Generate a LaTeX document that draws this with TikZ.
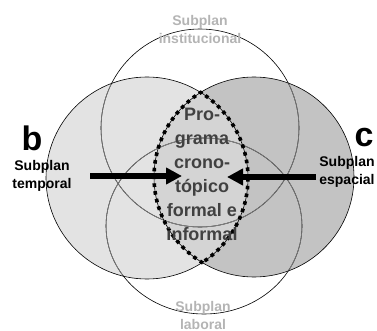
\documentclass[tikz,border=0pt]{standalone}
\usepackage{fontspec}
\setmainfont{Liberation Sans}
\usetikzlibrary{arrows.meta, positioning, calc}
\definecolor{lightfill}{RGB}{227,227,227}
\definecolor{darkfill}{RGB}{195,195,195}
\definecolor{lensfill}{RGB}{212,212,212}
\definecolor{softlabel}{RGB}{180,180,180}
\definecolor{progtext}{RGB}{65,65,65}

\begin{document}
\begin{tikzpicture}[x=1pt, y=-1pt,
    ring/.style={draw=black, line width=0.6pt},
    innerring/.style={draw=gray, line width=0.6pt},
    lensdots/.style={draw=black, line width=3.6pt, dash pattern=on 3.6pt off 4.2pt},
    bigarrow/.style={line width=5pt, -{Triangle[length=16pt, width=16pt]}},
    sublabel/.style={font=\bfseries\fontsize{14}{18}\selectfont, align=center, inner sep=0pt},
    letter/.style={font=\bfseries\fontsize{34}{34}\selectfont, inner sep=0pt}]
  \useasboundingbox (0,0) rectangle (377,331);
  % centres of the four plans
  \coordinate (cl) at (147,178);
  \coordinate (cr) at (254,177);
  \coordinate (ct) at (200,128);
  \coordinate (cb) at (204,226);
  % fills
  \fill[lightfill] (cl) circle (101);
  \fill[darkfill] (cr) circle (100);
  \begin{scope}
    \clip (cl) circle (101);
    \fill[lensfill] (cr) circle (100);
  \end{scope}
  % institutional and labour plans
  \draw[ring] (ct) circle (99);
  \draw[ring] (cb) ellipse (98 and 88);
  \begin{scope}
    \clip (cl) circle (101);
    \draw[innerring] (ct) circle (99);
    \draw[innerring] (cb) ellipse (98 and 88);
  \end{scope}
  \begin{scope}
    \clip (cr) circle (100);
    \draw[innerring] (ct) circle (99);
    \draw[innerring] (cb) ellipse (98 and 88);
  \end{scope}
  % temporal and spatial plans
  \draw[ring] (cl) circle (101);
  \draw[ring] (cr) circle (100);
  % dotted lens
  \begin{scope}
    \clip (cr) circle (101.5);
    \draw[lensdots] (cl) circle (101);
  \end{scope}
  \begin{scope}
    \clip (cl) circle (102.5);
    \draw[lensdots] (cr) circle (100);
  \end{scope}
  % labels
  \node[sublabel, softlabel] (inst) at (200,29) {Subplan\\institucional};
  \node[sublabel, softlabel] (labo) at (203,315) {Subplan\\laboral};
  \node[sublabel] (tempo) at (42,176) {Subplan\\temporal};
  \node[sublabel] (espa) at (347,172) {Subplan\\espacial};
  \node[letter] (lb) at (32,138) {b};
  \node[letter] (lc) at (364,138) {c};
  \node[font=\bfseries\fontsize{18}{24}\selectfont, align=center, inner sep=0pt, progtext]
    (prog) at (202,174) {Pro-\\grama\\crono-\\tópico\\formal e\\informal};
  % arrows into the programme
  \coordinate (lstart) at (90,176);
  \coordinate (ltip) at (182,176);
  \coordinate (rstart) at (316,177);
  \coordinate (rtip) at (227,177);
  \draw[bigarrow] (lstart) -- (ltip);
  \draw[bigarrow] (rstart) -- (rtip);
\end{tikzpicture}
\end{document}
